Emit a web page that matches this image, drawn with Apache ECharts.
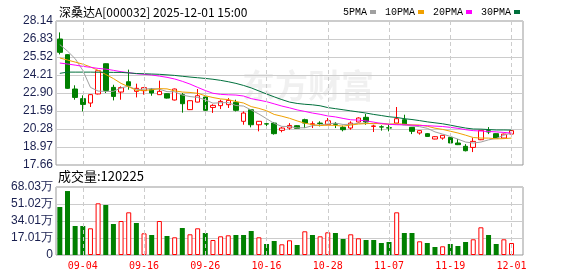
<!DOCTYPE html>
<html>
<head>
<meta charset="utf-8">
<title>深桑达A</title>
<style>
  html, body { margin: 0; padding: 0; background: #fff; }
  #main { width: 578px; height: 276px; }
</style>
</head>
<body>
<div id="main"></div>
<script src="https://cdn.jsdelivr.net/npm/echarts@6/dist/echarts.min.js"></script>
<script>
// trading days shown on the chart
var dates = ['09-01','09-02','09-03','09-04','09-05','09-08','09-09','09-10','09-11','09-12',
    '09-15','09-16','09-17','09-18','09-19','09-22','09-23','09-24','09-25','09-26',
    '09-29','09-30','10-09','10-10','10-13','10-14','10-15','10-16','10-17','10-20',
    '10-21','10-22','10-23','10-24','10-27','10-28','10-29','10-30','10-31','11-03',
    '11-04','11-05','11-06','11-07','11-10','11-11','11-12','11-13','11-14','11-17',
    '11-18','11-19','11-20','11-21','11-24','11-25','11-26','11-27','11-28','12-01'];

// [open, close, low, high]
var candles = [
    [26.83,25.86,25.71,27.31],[25.69,23.24,23.20,25.72],[23.19,22.58,22.41,23.46],[22.49,22.07,21.56,22.73],
    [22.17,22.78,21.88,22.80],[22.83,24.52,22.80,24.55],[25.03,23.09,22.90,25.05],[23.31,22.65,22.36,23.50],
    [22.97,23.29,22.41,23.38],[23.72,23.43,23.14,24.60],[23.02,23.24,22.58,23.58],[23.07,23.29,22.78,23.34],
    [23.14,22.90,22.70,23.26],[22.78,23.02,22.76,23.80],[22.85,22.53,22.50,22.88],[22.39,23.19,22.36,23.22],
    [22.78,22.12,21.47,22.90],[21.69,22.34,21.66,22.36],[22.24,22.70,22.22,23.19],[22.61,21.64,21.60,22.63],
    [21.85,22.00,21.45,22.08],[21.98,22.29,21.73,22.41],[22.05,22.36,21.81,22.53],[22.22,21.64,21.56,22.41],
    [20.84,21.44,20.59,21.56],[21.68,20.59,20.40,21.73],[20.59,20.84,20.11,20.86],[20.66,20.64,20.47,20.76],
    [20.71,19.94,19.87,20.79],[20.18,20.35,20.04,20.42],[20.35,20.54,20.23,20.71],[20.52,20.33,20.30,20.56],
    [20.96,20.71,20.35,21.03],[20.62,20.66,20.35,20.84],[20.71,20.68,20.47,20.84],[20.59,20.88,20.57,21.08],
    [20.66,20.62,20.35,20.79],[20.40,20.23,20.11,20.52],[20.35,20.71,20.23,20.84],[20.79,21.08,20.76,21.13],
    [21.13,20.79,20.59,21.37],[20.47,20.50,20.06,20.59],[20.44,20.42,20.16,20.55],[20.37,20.35,20.11,20.59],
    [20.71,21.03,20.69,21.88],[20.96,20.59,20.57,21.32],[20.40,20.11,19.91,20.42],[19.99,20.16,19.87,20.18],
    [19.94,19.74,19.72,19.99],[19.55,19.72,19.53,19.76],[19.62,19.82,19.50,19.84],[19.67,19.26,19.23,19.74],
    [19.26,19.14,19.11,19.55],[19.02,18.70,18.65,19.18],[18.94,19.38,18.60,19.62],[19.50,20.18,19.47,20.21],
    [20.16,20.06,19.91,20.42],[19.94,19.62,19.60,19.96],[19.62,19.91,19.60,19.94],[19.91,20.16,19.89,20.40]
];

var ma5 = [26.42,25.95,25.40,24.55,23.31,23.04,23.01,23.02,23.27,23.40,
    23.14,23.18,23.23,23.18,23.00,22.99,22.75,22.64,22.58,22.40,
    22.16,22.19,22.20,21.99,21.95,21.66,21.37,21.03,20.69,20.47,
    20.46,20.36,20.37,20.52,20.58,20.65,20.71,20.61,20.62,20.70,
    20.69,20.66,20.70,20.63,20.62,20.58,20.50,20.45,20.33,20.07,
    19.91,19.74,19.54,19.33,19.26,19.33,19.49,19.59,19.83,19.99];
var ma10 = [25.45,25.30,25.15,25.00,24.80,24.55,24.25,23.95,23.60,23.35,
    23.09,23.09,23.13,23.22,23.20,23.06,22.97,22.94,22.88,22.70,
    22.57,22.47,22.42,22.28,22.17,21.91,21.78,21.61,21.34,21.21,
    21.06,20.87,20.70,20.60,20.53,20.56,20.54,20.49,20.57,20.64,
    20.67,20.69,20.66,20.63,20.66,20.63,20.58,20.57,20.48,20.34,
    20.25,20.12,19.99,19.83,19.66,19.62,19.62,19.56,19.58,19.62];
var ma20 = [25.08,25.01,24.93,24.84,24.77,24.69,24.64,24.55,24.45,24.38,
    24.30,24.26,24.21,24.13,24.04,23.92,23.75,23.55,23.31,23.08,
    22.88,22.80,22.77,22.75,22.68,22.49,22.38,22.27,22.11,21.95,
    21.82,21.67,21.56,21.44,21.35,21.23,21.16,21.05,20.95,20.93,
    20.87,20.78,20.68,20.62,20.59,20.59,20.56,20.53,20.52,20.49,
    20.46,20.40,20.33,20.23,20.16,20.13,20.10,20.07,20.03,19.98];
var ma30 = [24.33,24.42,24.42,24.42,24.42,24.41,24.41,24.40,24.40,24.36,
    24.32,24.30,24.28,24.26,24.22,24.18,24.12,24.06,24.01,23.96,
    23.90,23.82,23.72,23.60,23.45,23.27,23.05,22.83,22.62,22.42,
    22.24,22.14,22.08,22.04,21.97,21.84,21.76,21.68,21.60,21.52,
    21.44,21.34,21.26,21.17,21.12,21.03,20.97,20.89,20.80,20.73,
    20.66,20.56,20.45,20.35,20.28,20.27,20.24,20.21,20.21,20.20];

// volume in 万
var volumes = [48,64,29,29,26.7,51.7,50,31,34,42.7,
    32,21.7,20,34,19,17.7,27,20.7,26.7,22,
    15,18.7,19.7,20,20,24,17.7,11,14,10.7,
    14.7,10,23.7,20,18.7,22.7,22,16,20.7,16.7,
    15,15,12,13,42.7,22,22,13.7,12,8,
    8.7,11,9,13,15.7,27.7,20,11,15.7,12.02];

var volLabels = ['0','17.01万','34.01万','51.02万','68.03万'];
var labelIdx = [3,11,19,27,35,43,51,59];
var maNames = ['5PMA','10PMA','20PMA','30PMA'];
var maColors = ['#a0a0a0','#f0a000','#ff00ff','#00703c'];
var maData = [ma5, ma10, ma20, ma30];

var axisDates = dates.concat(['']);
var red = '#ff0000', green = '#008000';

var volData = volumes.map(function (v, i) {
    var prev = i > 0 ? candles[i - 1][1] : candles[i][0];
    var up = candles[i][1] >= prev;
    return {
        value: v,
        itemStyle: up ? { color: '#fff', borderColor: red, borderWidth: 1 } : { color: green }
    };
});

var vLines = labelIdx.map(function (i) { return { xAxis: dates[i] }; });
var dashStyle = { color: '#cccccc', type: [4, 3], width: 1 };

var chart = echarts.init(document.getElementById('main'), null, { renderer: 'canvas' });
var series = [
    {
        name: 'K', type: 'candlestick', xAxisIndex: 0, yAxisIndex: 0,
        data: candles, barWidth: 5,
        itemStyle: { color: '#fff', color0: green, borderColor: red, borderColor0: green, borderWidth: 1 },
        markLine: { silent: true, symbol: ['none', 'none'], label: { show: false }, lineStyle: dashStyle, data: vLines },
        z: 2
    },
    {
        name: 'VOL', type: 'bar', xAxisIndex: 1, yAxisIndex: 1,
        data: volData, barWidth: 5,
        markLine: { silent: true, symbol: ['none', 'none'], label: { show: false }, lineStyle: dashStyle, data: vLines }
    }
];
maNames.forEach(function (n, k) {
    series.push({
        name: n, type: 'line', xAxisIndex: 0, yAxisIndex: 0,
        data: maData[k], symbol: 'none', showSymbol: false, silent: true,
        lineStyle: { color: maColors[k], width: 1 },
        itemStyle: { color: maColors[k] },
        z: 4
    });
});

chart.setOption({
    animation: false,
    backgroundColor: '#fff',
    title: {
        text: '深桑达A[000032] 2025-12-01 15:00',
        left: 54, top: 1,
        textStyle: { fontSize: 12, fontWeight: 'normal', color: '#000', fontFamily: 'Noto Sans CJK SC' }
    },
    legend: {
        data: maNames, left: 338, top: 2, align: 'right', icon: 'rect',
        itemWidth: 6, itemHeight: 4, itemGap: 9, selectedMode: false,
        textStyle: { fontSize: 10, color: '#000', fontFamily: 'Liberation Mono', padding: [0, -2, 0, 0] }
    },
    grid: [
        { left: 56, top: 21, width: 467, height: 144, show: true, borderColor: '#999', borderWidth: 1 },
        { left: 56, top: 187, width: 467, height: 68, show: true, borderColor: '#999', borderWidth: 1 }
    ],
    xAxis: [
        {
            type: 'category', gridIndex: 0, data: axisDates,
            axisLine: { show: false }, axisTick: { show: false }, axisLabel: { show: false }, splitLine: { show: false }
        },
        {
            type: 'category', gridIndex: 1, data: axisDates,
            axisLine: { show: false }, axisTick: { show: false }, splitLine: { show: false },
            axisLabel: {
                interval: function (i) { return labelIdx.indexOf(i) >= 0; },
                color: red, fontSize: 10, fontFamily: 'DejaVu Sans Mono', margin: 6
            }
        }
    ],
    yAxis: [
        {
            type: 'value', gridIndex: 0, min: 17.66, max: 28.14, interval: 1.31,
            axisLine: { show: false }, axisTick: { show: false },
            axisLabel: {
                formatter: function (v) { return v.toFixed(2); },
                color: '#1a2050', fontSize: 12, fontFamily: 'Liberation Sans', margin: 3
            },
            splitLine: { lineStyle: { color: '#cccccc', width: 1 } }
        },
        {
            type: 'value', gridIndex: 1, min: 0, max: 68.03, interval: 17.0075,
            axisLine: { show: false }, axisTick: { show: false },
            axisLabel: {
                formatter: function (v) { return volLabels[Math.round(v / 17.0075)]; },
                color: '#1a2050', fontSize: 12, fontFamily: 'Liberation Sans', margin: 3
            },
            splitLine: { lineStyle: { color: '#cccccc', width: 1 } }
        }
    ],
    graphic: [
        {
            type: 'text', left: 242, top: 69, silent: true, z: 0,
            style: { text: '东方财富', fontSize: 33, fontWeight: 'bold', fill: 'rgba(0,0,0,0.06)', fontFamily: 'Noto Sans CJK SC' }
        },
        {
            type: 'text', left: 58, top: 170,
            style: { text: '成交量:120225', fontSize: 13, fill: '#000', fontFamily: 'Noto Sans CJK SC' }
        }
    ],
    series: series
});
</script>
</body>
</html>
